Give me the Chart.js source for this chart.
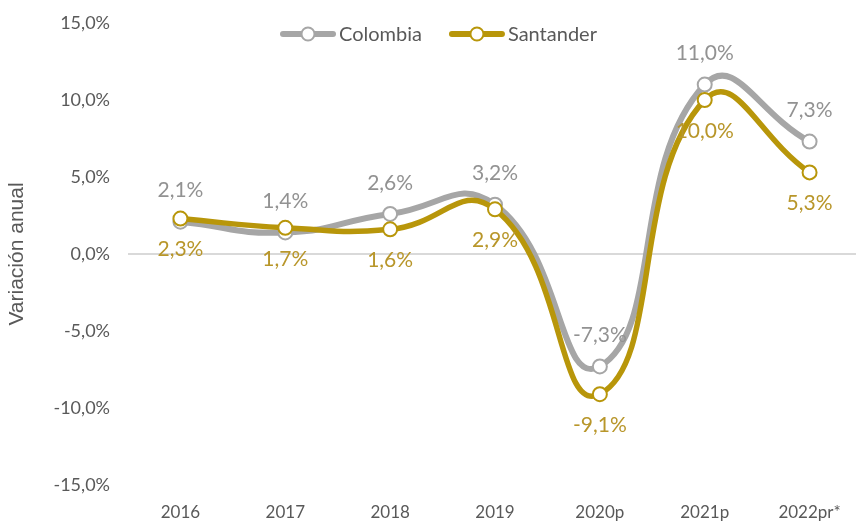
<!DOCTYPE html>
<html>
<head>
<meta charset="utf-8">
<script src="https://cdn.jsdelivr.net/npm/chart.js@4/dist/chart.umd.min.js"></script>
<style>
    html, body { margin: 0; padding: 0; background: #ffffff; overflow: hidden; }
    #wrap { width: 856px; height: 521px; overflow: hidden; }
</style>
</head>
<body>
<div id="wrap"><canvas id="chart" width="871" height="521"></canvas></div>
<script>
(function () {
    "use strict";

    var years = ["2016", "2017", "2018", "2019", "2020p", "2021p", "2022pr*"];
    var colombia = [2.1, 1.4, 2.6, 3.2, -7.3, 11.0, 7.3];
    var santander = [2.3, 1.7, 1.6, 2.9, -9.1, 10.0, 5.3];
    var yTicks = [-15, -10, -5, 0, 5, 10, 15];

    var GRAY = "#a6a6a6";
    var GOLD = "#b8960a";
    var GRAY_TEXT = "#929292";
    var GOLD_TEXT = "#b8962a";
    var AXIS_TEXT = "#595959";
    var FONT = "Lato, 'Open Sans', sans-serif";

    function pct(v) {
        return v.toFixed(1).replace(".", ",") + "%";
    }

    // value labels: Colombia above, Santander below
    var valueLabels = {
        id: "valueLabels",
        afterDatasetsDraw: function (chart) {
            var ctx = chart.ctx;
            ctx.save();
            ctx.font = "21px " + FONT;
            ctx.textAlign = "center";
            ctx.textBaseline = "middle";
            chart.data.datasets.forEach(function (ds, i) {
                var meta = chart.getDatasetMeta(i);
                meta.data.forEach(function (pt, j) {
                    var above = ds.labelSide === "above";
                    ctx.fillStyle = ds.labelColor;
                    ctx.fillText(pct(ds.data[j]), pt.x, pt.y + (above ? -31 : 31));
                });
            });
            ctx.restore();
        }
    };

    // legend drawn by hand: line with hollow marker, then name
    var lineLegend = {
        id: "lineLegend",
        afterDraw: function (chart) {
            var ctx = chart.ctx;
            var x = 283;
            var y = 34;
            ctx.save();
            ctx.font = "20px " + FONT;
            ctx.textBaseline = "middle";
            chart.data.datasets.slice().reverse().forEach(function (ds) {
                ctx.strokeStyle = ds.borderColor;
                ctx.lineWidth = 6;
                ctx.lineCap = "round";
                ctx.beginPath();
                ctx.moveTo(x, y);
                ctx.lineTo(x + 50, y);
                ctx.stroke();
                ctx.beginPath();
                ctx.arc(x + 25, y, 6.5, 0, Math.PI * 2);
                ctx.fillStyle = "#ffffff";
                ctx.fill();
                ctx.lineWidth = 2;
                ctx.stroke();
                ctx.fillStyle = AXIS_TEXT;
                ctx.fillText(ds.label, x + 56, y + 1);
                x += 56 + ctx.measureText(ds.label).width + 30;
            });
            ctx.restore();
        }
    };

    new Chart(document.getElementById("chart").getContext("2d"), {
        type: "line",
        data: {
            labels: years,
            datasets: [{
                label: "Santander",
                data: santander,
                order: 0,
                borderColor: GOLD,
                borderWidth: 5.5,
                backgroundColor: "#ffffff",
                pointBackgroundColor: "#ffffff",
                pointBorderColor: GOLD,
                pointBorderWidth: 2,
                pointRadius: 7,
                tension: 0.5,
                labelSide: "below",
                labelColor: GOLD_TEXT
            }, {
                label: "Colombia",
                data: colombia,
                order: 1,
                borderColor: GRAY,
                borderWidth: 6,
                backgroundColor: "#ffffff",
                pointBackgroundColor: "#ffffff",
                pointBorderColor: GRAY,
                pointBorderWidth: 2,
                pointRadius: 7,
                tension: 0.5,
                labelSide: "above",
                labelColor: GRAY_TEXT
            }]
        },
        options: {
            responsive: false,
            animation: false,
            events: [],
            layout: {
                padding: { top: 23, right: 1, left: 0, bottom: 0 }
            },
            plugins: {
                legend: { display: false },
                tooltip: { enabled: false }
            },
            scales: {
                x: {
                    offset: true,
                    grid: { display: false },
                    border: { display: false },
                    ticks: {
                        color: AXIS_TEXT,
                        font: { family: "'Liberation Sans Narrow', Lato, sans-serif", size: 17 },
                        padding: 9,
                        maxRotation: 0
                    },
                    afterFit: function (scale) {
                        scale.height = 36;
                    }
                },
                y: {
                    min: -15,
                    max: 15,
                    afterBuildTicks: function (scale) {
                        scale.ticks = yTicks.map(function (v) { return { value: v }; });
                    },
                    grid: {
                        drawTicks: false,
                        color: function (c) {
                            return c.tick && c.tick.value === 0 ? "#d9d9d9" : "rgba(0,0,0,0)";
                        },
                        lineWidth: 2
                    },
                    border: { display: false },
                    ticks: {
                        color: AXIS_TEXT,
                        font: { family: FONT, size: 18 },
                        padding: 18,
                        callback: function (v) { return pct(v); }
                    },
                    title: {
                        display: true,
                        text: "Variación anual",
                        color: AXIS_TEXT,
                        font: { family: "'Liberation Sans', Arial, sans-serif", size: 21 },
                        padding: { top: 5, bottom: 0 }
                    },
                    afterFit: function (scale) {
                        scale.width = 128;
                        scale.paddingTop = 0;
                        scale.paddingBottom = 0;
                    }
                }
            }
        },
        plugins: [valueLabels, lineLegend]
    });
})();
</script>
</body>
</html>
